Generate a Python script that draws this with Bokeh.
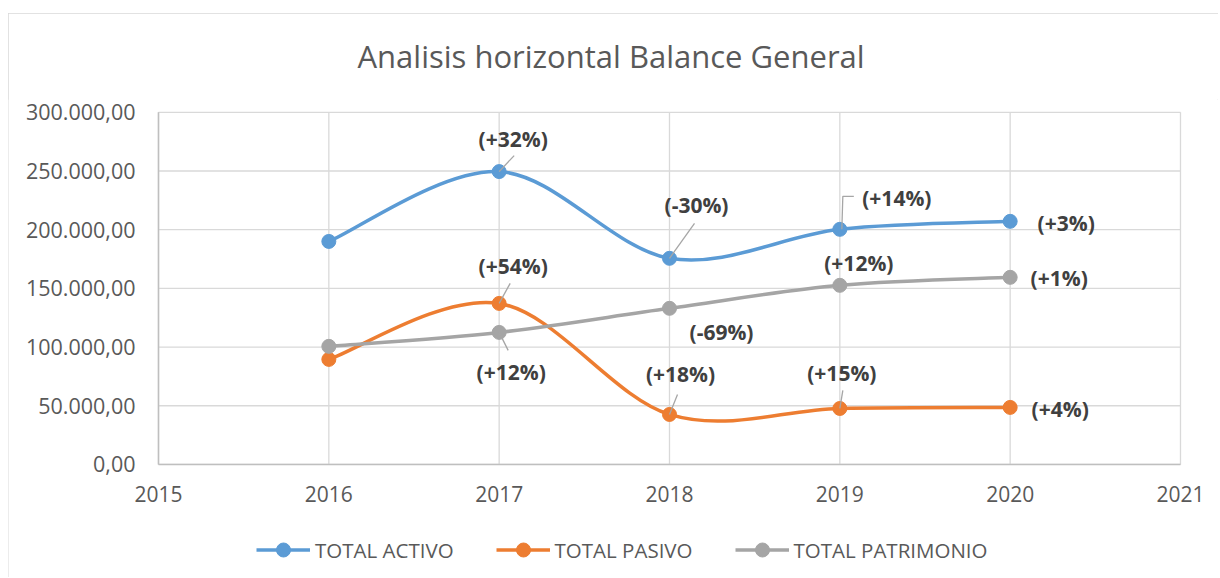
from bokeh.plotting import figure
from bokeh.models import Legend, LegendItem, Title, ColumnDataSource
from bokeh.core.properties import value
from bokeh.embed import file_html
from bokeh.resources import INLINE

# ---------------- data ----------------
years = [2016, 2017, 2018, 2019, 2020]
total_activo = [190000, 249500, 175600, 200300, 207100]
total_pasivo = [89500, 137200, 42600, 47700, 48600]
total_patrimonio = [100600, 112500, 133000, 152600, 159400]
series_names = ["TOTAL ACTIVO", "TOTAL PASIVO", "TOTAL PATRIMONIO"]

x_ticks = [2015, 2016, 2017, 2018, 2019, 2020, 2021]
x_tick_labels = ["2015", "2016", "2017", "2018", "2019", "2020", "2021"]
y_ticks = [0, 50000, 100000, 150000, 200000, 250000, 300000]
y_tick_labels = ["0,00", "50.000,00", "100.000,00", "150.000,00",
                 "200.000,00", "250.000,00", "300.000,00"]

# data labels: series index, year, text
label_series = [0, 0, 0, 0, 1, 1, 1, 1, 2, 2, 2, 2]
label_years = [2017, 2018, 2019, 2020, 2017, 2018, 2019, 2020, 2017, 2018, 2019, 2020]
label_texts = ["(+32%)", "(-30%)", "(+14%)", "(+3%)",
               "(+54%)", "(+18%)", "(+15%)", "(+4%)",
               "(+12%)", "(-69%)", "(+12%)", "(+1%)"]

# ---------------- style ----------------
colors = ["#5B9BD5", "#ED7D31", "#A5A5A5"]
label_dx = [14, 27, 57, 56, 14, 11, 2, 50, 12, 52, 19, 49]
label_dy = [-33, -53, -31, 2, -37, -40, -35, 2, 40, 24, -22, 1]
# leader paths (pixel offsets from the point), per label index
leaders = {
    0: [(0, 0), (15, -16)],
    1: [(0, 0), (25, -35)],
    2: [(2, 0), (3, -33), (14, -33)],
    4: [(0, 0), (11, -20)],
    5: [(0, 0), (8, -20)],
    6: [(0, 0), (3, -18)],
    8: [(0, 0), (9, 18)],
}

TXT = "#595959"
FONT = "Open Sans"
GRID = "#D9D9D9"
AXIS = "#BFBFBF"

# plotting-area geometry (pixels)
DATA_W, DATA_H = 1022, 352
PAD_L, PAD_R, PAD_T, PAD_B = 150, 38, 12.8, 113
X0, X1 = x_ticks[0], x_ticks[-1]
Y0, Y1 = y_ticks[0], y_ticks[-1]
px_per_x = DATA_W / (X1 - X0)
px_per_y = DATA_H / (Y1 - Y0)

p = figure(frame_width=DATA_W + PAD_L + PAD_R, frame_height=int(round(DATA_H + PAD_T + PAD_B)),
           x_range=(X0 - PAD_L / px_per_x, X1 + PAD_R / px_per_x),
           y_range=(Y0 - PAD_B / px_per_y, Y1 + PAD_T / px_per_y),
           output_backend="svg", toolbar_location=None,
           min_border_left=0, min_border_right=0,
           min_border_top=0, min_border_bottom=0,
           background_fill_color="white", border_fill_color="white")
p.margin = (13, 0, 0, 8)
p.styles = {"outline": "1px solid #d9d9d9", "outline-offset": "-1px"}
p.outline_line_color = None
p.title = None
p.xaxis.visible = False
p.yaxis.visible = False
p.xgrid.visible = False
p.ygrid.visible = False

p.add_layout(Title(text="Analisis horizontal Balance General", align="left",
                   offset=349, vertical_align="top", text_font=FONT,
                   text_font_size="31px", text_font_style="normal",
                   text_color=TXT, standoff=42), "above")

# grid lines
n_y = len(y_ticks)
n_x = len(x_ticks)
p.segment(x0=[X0] * n_y, x1=[X1] * n_y, y0=y_ticks, y1=y_ticks,
          line_color=GRID, line_width=1.3)
p.segment(x0=x_ticks, x1=x_ticks, y0=[Y0] * n_x, y1=[Y1] * n_x,
          line_color=GRID, line_width=1.3)
# axis lines
p.segment(x0=[X0, X0], y0=[Y0, Y0], x1=[X1, X0], y1=[Y0, Y1],
          line_color=AXIS, line_width=1.5)
# tick labels
p.text(x=[X0] * n_y, y=y_ticks, text=y_tick_labels, x_offset=-23,
       text_align="right", text_baseline="middle", text_font=value(FONT),
       text_font_size="21.5px", text_color=TXT)
p.text(x=x_ticks, y=[Y0] * n_x, text=x_tick_labels, y_offset=30,
       text_align="center", text_baseline="middle", text_font=value(FONT),
       text_font_size="21px", text_color=TXT)


def smooth_controls(xs, ys):
    n = len(xs)
    x0s, y0s, x1s, y1s = [], [], [], []
    cx0, cy0, cx1, cy1 = [], [], [], []
    for i in range(n - 1):
        im1 = max(i - 1, 0)
        ip2 = min(i + 2, n - 1)
        x0s.append(xs[i]); y0s.append(ys[i])
        x1s.append(xs[i + 1]); y1s.append(ys[i + 1])
        cx0.append(xs[i] + (xs[i + 1] - xs[im1]) / 6)
        cy0.append(ys[i] + (ys[i + 1] - ys[im1]) / 6)
        cx1.append(xs[i + 1] - (xs[ip2] - xs[i]) / 6)
        cy1.append(ys[i + 1] - (ys[ip2] - ys[i]) / 6)
    return dict(x0=x0s, y0=y0s, x1=x1s, y1=y1s, cx0=cx0, cy0=cy0, cx1=cx1, cy1=cy1)


all_series = [total_activo, total_pasivo, total_patrimonio]
items = []
for vals, col, name in zip(all_series, colors, series_names):
    src = ColumnDataSource(smooth_controls(years, vals))
    rb = p.bezier(x0="x0", y0="y0", x1="x1", y1="y1", cx0="cx0", cy0="cy0",
                  cx1="cx1", cy1="cy1", source=src, line_color=col, line_width=3.5)
    rs = p.scatter(years, vals, size=14, fill_color=col, line_color=col)
    items.append(LegendItem(label=name, renderers=[rb, rs]))

# leader lines
for idx, path in leaders.items():
    s = label_series[idx]
    yr = label_years[idx]
    v = all_series[s][years.index(yr)]
    xs = [yr + dx / px_per_x for dx, dy in path]
    ys = [v - dy / px_per_y for dx, dy in path]
    p.line(xs, ys, line_color="#A6A6A6", line_width=1.3)

# data labels
lx, ly = [], []
for s, yr in zip(label_series, label_years):
    lx.append(yr)
    ly.append(all_series[s][years.index(yr)])
p.text(x=lx, y=ly, text=label_texts, x_offset=label_dx, y_offset=label_dy,
       text_align="center", text_baseline="middle",
       text_font=value(FONT), text_font_style="bold", text_font_size="21px",
       text_color="#404040")

legend = Legend(items=items, orientation="horizontal", location=(248, 10),
                glyph_width=54, glyph_height=35, label_standoff=5, spacing=42,
                padding=0, margin=0, border_line_alpha=0, background_fill_alpha=0,
                label_text_font=FONT, label_text_font_size="20.5px",
                label_text_color=TXT)
p.add_layout(legend, "center")

open("out.html", "w").write(file_html(p, INLINE))
